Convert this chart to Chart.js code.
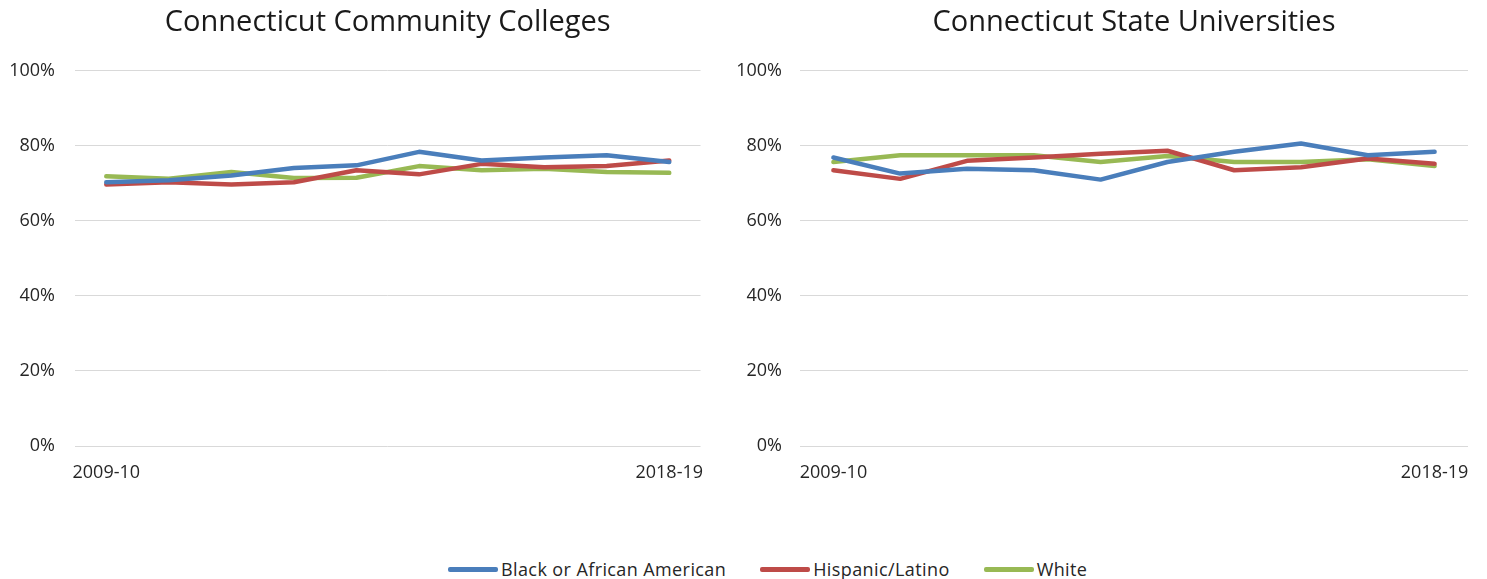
<!DOCTYPE html>
<html><head><meta charset="utf-8">
<script src="https://cdn.jsdelivr.net/npm/chart.js@4"></script>
<style>
html,body{margin:0;padding:0;background:#fff;width:1487px;height:579px;overflow:hidden;font-family:"Open Sans",sans-serif}
#c1{position:absolute;left:0;top:0}
#c2{position:absolute;left:725px;top:0}
#legend{position:absolute;left:448px;top:557px;height:24px;display:flex;align-items:center;font-size:18px;letter-spacing:0.4px;color:#262626;white-space:nowrap}
#legend span.item{display:flex;align-items:center;margin-right:34px}
#legend span.sw{display:inline-block;width:50px;height:5px;margin-right:3px;border-radius:2px}
</style></head>
<body>
<canvas id="c1" width="720" height="520"></canvas>
<canvas id="c2" width="762" height="520"></canvas>
<div id="legend"></div>
<script>
const categories = ["2009-10","2010-11","2011-12","2012-13","2013-14","2014-15","2015-16","2016-17","2017-18","2018-19"];
const seriesNames = ["Black or African American","Hispanic/Latino","White"];
const seriesColors = ["#4a7ebb","#be4b48","#98b954"];
const ccBlack    = [70.3, 70.8, 72.1, 74.1, 74.8, 78.4, 76.1, 76.9, 77.5, 75.7];
const ccHispanic = [69.7, 70.3, 69.7, 70.3, 73.5, 72.4, 75.2, 74.3, 74.6, 76.1];
const ccWhite    = [71.9, 71.2, 73.0, 71.4, 71.5, 74.6, 73.5, 73.9, 73.0, 72.8];
const csuBlack    = [76.9, 72.6, 73.9, 73.5, 71.0, 75.7, 78.4, 80.6, 77.5, 78.4];
const csuHispanic = [73.5, 71.2, 76.0, 76.9, 77.9, 78.7, 73.5, 74.3, 76.6, 75.2];
const csuWhite    = [75.7, 77.5, 77.5, 77.5, 75.7, 77.3, 75.7, 75.7, 76.4, 74.6];
const yTicks = [0,20,40,60,80,100];

function makeChart(id, title, data, padRight, yPad){
  const datasets = data.map((d,i)=>({
    label: seriesNames[i], data: d, borderColor: seriesColors[i], backgroundColor: seriesColors[i],
    borderWidth: 4.5, pointRadius: 0, tension: 0, fill:false, borderCapStyle:'round', borderJoinStyle:'round'
  }));
  return new Chart(document.getElementById(id), {
    type: 'line',
    data: { labels: categories, datasets },
    options: {
      responsive: false, animation: false,
      layout: { padding: { left: 2, right: padRight, top: 0, bottom: 34 } },
      plugins: {
        legend: { display: false },
        tooltip: { enabled: false },
        title: { display: true, fullSize: false, text: title, color: '#1a1a1a',
          font: { family: 'Open Sans', size: 29, weight: 'normal' }, padding: { top: 5, bottom: 31 } }
      },
      scales: {
        x: {
          offset: true,
          grid: { display: false, drawTicks: false },
          border: { display: false },
          afterFit: s => { s.height = 40; },
          ticks: { autoSkip: false, maxRotation: 0, padding: 16, color: '#262626',
            font: { family: 'Open Sans', size: 18 },
            callback: (v, i) => (i === 0 || i === categories.length - 1) ? categories[i] : '' }
        },
        y: {
          min: 0, max: 100,
          afterBuildTicks: s => { s.ticks = yTicks.map(v => ({ value: v })); },
          afterFit: s => { s.width = 73; },
          grid: { color: '#d9d9d9', lineWidth: 1, drawTicks: false },
          border: { display: false },
          ticks: { padding: yPad, color: '#262626', font: { family: 'Open Sans', size: 18 },
            callback: v => v + '%' }
        }
      }
    }
  });
}
makeChart('c1', 'Connecticut Community Colleges', [ccBlack, ccHispanic, ccWhite], 15, 20);
makeChart('c2', 'Connecticut State Universities', [csuBlack, csuHispanic, csuWhite], 19, 18);

const lg = document.getElementById('legend');
seriesNames.forEach((n,i)=>{
  const it = document.createElement('span'); it.className='item';
  const sw = document.createElement('span'); sw.className='sw'; sw.style.background = seriesColors[i];
  it.appendChild(sw); it.appendChild(document.createTextNode(n)); lg.appendChild(it);
});
</script>
</body></html>
